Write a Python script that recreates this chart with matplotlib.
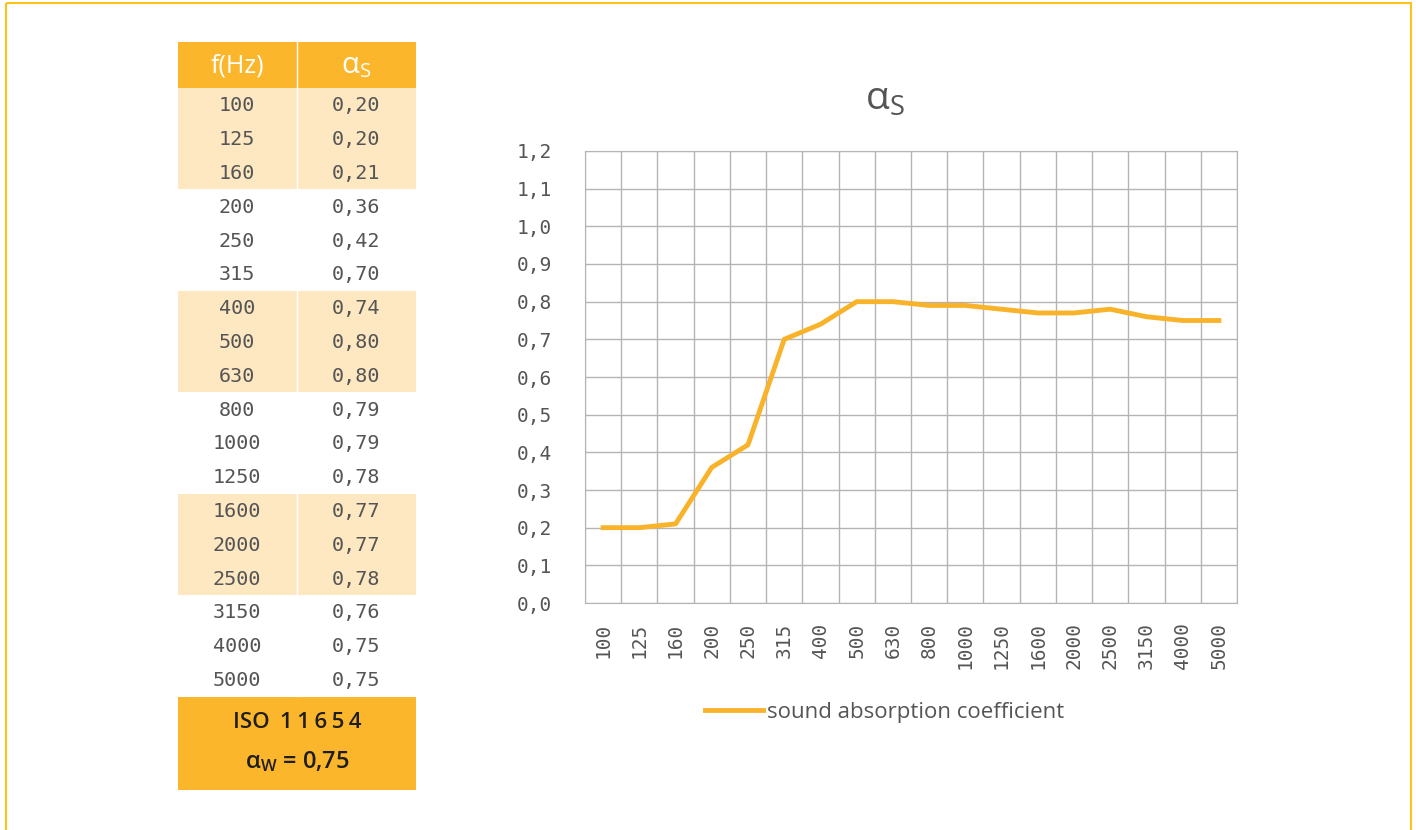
import matplotlib.pyplot as plt
from matplotlib.patches import Rectangle
from matplotlib.lines import Line2D

# data
freqs = ["100", "125", "160", "200", "250", "315", "400", "500", "630",
         "800", "1000", "1250", "1600", "2000", "2500", "3150", "4000", "5000"]
alpha_s = [0.20, 0.20, 0.21, 0.36, 0.42, 0.70, 0.74, 0.80, 0.80,
           0.79, 0.79, 0.78, 0.77, 0.77, 0.78, 0.76, 0.75, 0.75]
alpha_w = 0.75
norm_name = "ISO 11654"
y_ticks = [0.0, 0.1, 0.2, 0.3, 0.4, 0.5, 0.6, 0.7, 0.8, 0.9, 1.0, 1.1, 1.2]

ORANGE = "#fbb62c"
LIGHT = "#fde8c2"
LINE = "#f9b32a"
GRID = "#b4b4b4"
GREY = "#555555"
MONO = "DejaVu Sans Mono"

W, H = 1416, 830
fig = plt.figure(figsize=(W / 100, H / 100), dpi=100)


def comma(v, fmt):
    # decimal comma
    return (fmt % v).replace(".", ",")


# overlay in pixel units for the table and frame
ov = fig.add_axes([0, 0, 1, 1], zorder=0)
ov.set_xlim(0, W)
ov.set_ylim(H, 0)
ov.axis("off")

ov.add_patch(Rectangle((6, 3), 1405, 840, fill=False, edgecolor="#ffc21a", lw=1.5))

tx0, tx1, tdiv = 178, 416, 297
head_top, head_bot = 42, 88
row_h = 33.8
col1, col2 = 237, 356

ov.add_patch(Rectangle((tx0, head_top), tx1 - tx0, head_bot - head_top, color=ORANGE, lw=0))
ov.text(col1, 66, "f(Hz)", color="white", fontsize=18, family="Open Sans",
        ha="center", va="center")
ov.text(col2, 66, r"$\mathregular{α_S}$", color="white", fontsize=21, family="Open Sans",
        ha="center", va="center")

for i, (f, a) in enumerate(zip(freqs, alpha_s)):
    y0 = head_bot + i * row_h
    if (i // 3) % 2 == 0:
        ov.add_patch(Rectangle((tx0, y0), tx1 - tx0, row_h, color=LIGHT, lw=0))
    yc = y0 + row_h / 2 + 1
    ov.text(col1, yc, f, color=GREY, fontsize=14.5, family=MONO,
            ha="center", va="center")
    ov.text(col2, yc, comma(a, "%.2f"), color=GREY, fontsize=14.5, family=MONO,
            ha="center", va="center")

tbl_bot = head_bot + len(freqs) * row_h
ov.plot([tdiv, tdiv], [head_top, tbl_bot], color="white", lw=1)

foot_top, foot_bot = 697, 790
ov.add_patch(Rectangle((tx0, foot_top), tx1 - tx0, foot_bot - foot_top, color=ORANGE, lw=0))
ov.text((tx0 + tx1) / 2, 722, norm_name.replace("1", "\u20091").replace("6", "\u20096")
        .replace("5", "\u20095").replace("4", "\u20094"),
        color="#1e1e1e", fontsize=16, family="Open Sans", weight="semibold",
        ha="center", va="center")
ov.text((tx0 + tx1) / 2, 762, r"$\mathregular{α_W}$ = " + comma(alpha_w, "%.2f"),
        color="#1e1e1e", fontsize=17, family="Open Sans", weight="semibold",
        ha="center", va="center")

# chart
ax = fig.add_axes([585 / W, 1 - 603 / H, 652 / W, 452 / H], zorder=1)
x = list(range(len(freqs)))
ax.plot(x, alpha_s, color=LINE, lw=3.5, solid_joinstyle="round")
ax.set_xlim(-0.5, len(freqs) - 0.5)
ax.set_ylim(0, 1.2)
ax.set_xticks(x)
ax.set_xticklabels(freqs, rotation=90, family=MONO, fontsize=14, color=GREY)
ax.set_xticks([i - 0.5 for i in range(len(freqs) + 1)], minor=True)
ax.set_yticks(y_ticks)
ax.set_yticklabels([comma(v, "%.1f") for v in y_ticks], family=MONO,
                   fontsize=14, color=GREY)
ax.tick_params(length=0, which="both")
ax.tick_params(axis="x", pad=14)
ax.tick_params(axis="y", pad=24)
ax.grid(True, axis="y", which="major", color=GRID, lw=1)
ax.grid(True, axis="x", which="minor", color=GRID, lw=1)
for s in ax.spines.values():
    s.set_color(GRID)
ax.set_axisbelow(True)

fig.text(885 / W, 1 - 100 / H, r"$\mathregular{α_S}$", fontsize=28, color=GREY,
         family="Open Sans", ha="center", va="center")

handle = Line2D([], [], color=LINE, lw=3.5)
fig.legend([handle], ["sound absorption coefficient"], loc="center",
           bbox_to_anchor=(885 / W, 1 - 712 / H), frameon=False, handlelength=2.6,
           handletextpad=0.2, prop={"family": "Open Sans", "size": 16},
           labelcolor=GREY)

fig.savefig("out.png", dpi=100)
